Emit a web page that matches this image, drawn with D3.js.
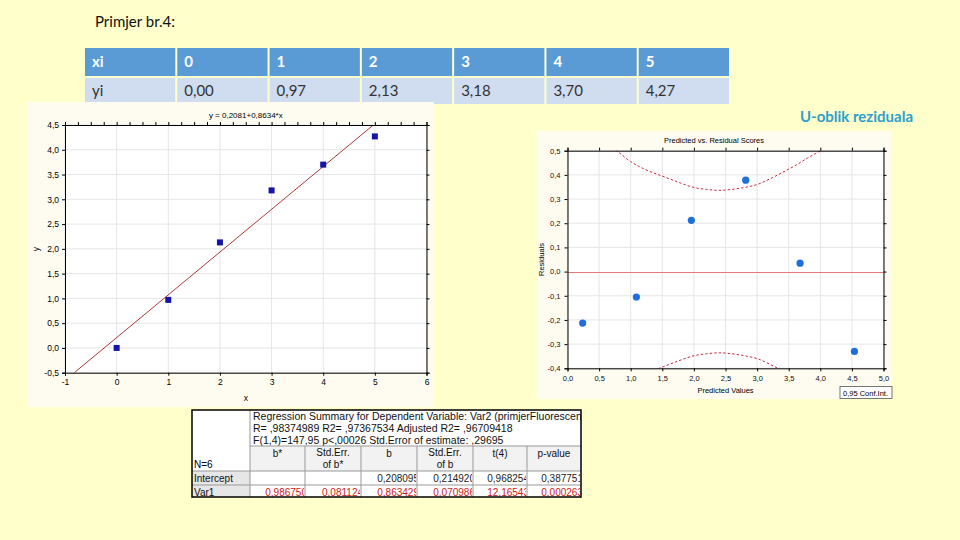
<!DOCTYPE html>
<html><head><meta charset="utf-8">
<script src="https://cdn.jsdelivr.net/npm/d3@7"></script>
<style>html,body{margin:0;padding:0;background:#FFFFCC;}svg{display:block;}</style>
</head><body>
<svg id="c" width="960" height="540"></svg>
<script>
// ---------- data ----------
const tableHead = ["xi","0","1","2","3","4","5"];
const tableRow  = ["yi","0,00","0,97","2,13","3,18","3,70","4,27"];
const xi = [0,1,2,3,4,5];
const yi = [0.00,0.97,2.13,3.18,3.70,4.27];
const fitIntercept = 0.2081, fitSlope = 0.8634;
const fitTitle = "y = 0,2081+0,8634*x";
const leftXTicks = [-1,0,1,2,3,4,5,6];
const leftYTicks = [-0.5,0,0.5,1,1.5,2,2.5,3,3.5,4,4.5];
const predicted = [0.24,1.09,1.96,2.82,3.68,4.54];
const residuals = [-0.213,-0.105,0.212,0.378,0.035,-0.330];
const bandPred  = [0.6,0.78,1.0,1.25,1.5,1.75,2.0,2.2,2.4,2.6,2.8,3.0,3.2,3.4,3.6,3.8,4.0,4.2];
const bandUpper = [0.54,0.50,0.455,0.42,0.395,0.37,0.348,0.34,0.336,0.34,0.348,0.36,0.383,0.41,0.438,0.47,0.50,0.54];
const bandLower = bandUpper.map(v => -v);
const rightXTicks = [0,0.5,1,1.5,2,2.5,3,3.5,4,4.5,5];
const rightYTicks = [-0.4,-0.3,-0.2,-0.1,0,0.1,0.2,0.3,0.4,0.5];
const regTitle = ["Regression Summary for Dependent Variable: Var2 (primjerFluorescencija.sta)",
                  "R= ,98374989 R2= ,97367534 Adjusted R2= ,96709418",
                  "F(1,4)=147,95 p<,00026 Std.Error of estimate: ,29695"];
const regCols = [["b*"],["Std.Err.","of b*"],["b"],["Std.Err.","of b"],["t(4)"],["p-value"]];
const regRows = ["Intercept","Var1"];
const regVals = [["","","0,208095","0,214920","0,968254","0,387751"],
                 ["0,986750","0,081124","0,863429","0,070986","12,16543","0,000263"]];

const fmt = d => d3.format(".1f")(d).replace(".",",").replace("−","-");
const svg = d3.select("#c");
const FS = "'Liberation Sans', Arial, sans-serif";

// ---------- slide title ----------
svg.append("text").attr("x",95).attr("y",27).attr("font-family","Lato, 'Open Sans', sans-serif")
  .attr("font-size",15).attr("fill","#111").text("Primjer br.4:");
svg.append("text").attr("x",913).attr("y",122).attr("text-anchor","end")
  .attr("font-family","Lato, 'Open Sans', sans-serif").attr("font-weight","bold")
  .attr("font-size",15).attr("fill","#2EA0CC").text("U-oblik reziduala");

// ---------- top table ----------
const colX = d3.scaleBand().domain(d3.range(7)).range([85,731]).paddingInner(0);
const tt = svg.append("g");
[[tableHead,48,76,"#5B9BD5","#fff"],[tableRow,78,104,"#D0DCEF","#333"]].forEach(([row,y0,y1,fill,tc]) => {
  row.forEach((t,i) => {
    tt.append("rect").attr("x",colX(i)).attr("y",y0).attr("width",colX.bandwidth()-2).attr("height",y1-y0).attr("fill",fill);
    tt.append("text").attr("x",colX(i)+7).attr("y",(y0+y1)/2+5).attr("font-family","Lato, sans-serif")
      .attr("font-size",15).attr("fill",tc).attr("font-weight",tc==="#fff"?"bold":"normal").text(t);
  });
});

// ---------- left chart ----------
const L = svg.append("g");
L.append("rect").attr("x",27).attr("y",102).attr("width",407).attr("height",305).attr("fill","#FEFCF0");
const xL = d3.scaleLinear([-1,6],[65,426.5]);
const yL = d3.scaleLinear([-0.5,4.5],[372.7,125]);
L.append("rect").attr("x",65).attr("y",125).attr("width",361.5).attr("height",247.7).attr("fill","#fff");
L.append("g").selectAll("line").data(leftXTicks).join("line")
  .attr("x1",d=>xL(d)).attr("x2",d=>xL(d)).attr("y1",125).attr("y2",372.7).attr("stroke","#E6E6E6");
L.append("g").selectAll("line").data(leftYTicks).join("line")
  .attr("y1",d=>yL(d)).attr("y2",d=>yL(d)).attr("x1",65).attr("x2",426.5).attr("stroke","#E6E6E6");
const axB = d3.axisBottom(xL).tickValues(leftXTicks).tickFormat(d=>String(d)).tickSize(3).tickPadding(3);
const axT = d3.axisTop(xL).tickValues(d3.range(-1,6.01,0.25)).tickFormat("").tickSize(3);
const axLf = d3.axisLeft(yL).tickValues(leftYTicks).tickFormat(fmt).tickSize(3).tickPadding(3);
const axR = d3.axisRight(yL).tickValues(leftYTicks).tickFormat("").tickSize(3);
L.append("clipPath").attr("id","clipL").append("rect").attr("x",65).attr("y",125).attr("width",361.5).attr("height",247.7);
L.append("line").attr("x1",xL((-0.5-fitIntercept)/fitSlope)).attr("y1",yL(-0.5))
  .attr("x2",xL((4.5-fitIntercept)/fitSlope)).attr("y2",yL(4.5))
  .attr("stroke","#B03838").attr("stroke-width",1).attr("clip-path","url(#clipL)");
L.append("g").selectAll("rect").data(xi).join("rect")
  .attr("x",(d)=>xL(d)-3).attr("y",(d,i)=>yL(yi[i])-3).attr("width",6).attr("height",6).attr("fill","#1414A8");
[[axB,`translate(0,372.7)`],[axT,`translate(0,125)`],[axLf,`translate(65,0)`],[axR,`translate(426.5,0)`]].forEach(([a,t])=>{
  const g = L.append("g").attr("transform",t).call(a);
  g.selectAll("path").attr("stroke","#000").attr("stroke-width",1);
  g.selectAll("line").attr("stroke","#000");
  g.selectAll("text").attr("font-family",FS).attr("font-size",8.5).attr("fill","#000");
});
L.append("text").attr("x",245.8).attr("y",118).attr("text-anchor","middle").attr("font-family",FS).attr("font-size",8).text(fitTitle);
L.append("text").attr("transform","translate(39,249) rotate(-90)").attr("text-anchor","middle").attr("font-family",FS).attr("font-size",8.5).text("y");
L.append("text").attr("x",245.8).attr("y",401).attr("text-anchor","middle").attr("font-family",FS).attr("font-size",8.5).text("x");

// ---------- right chart ----------
const R = svg.append("g");
R.append("rect").attr("x",537).attr("y",131).attr("width",355).attr("height",268).attr("fill","#FEFCF0");
const xR = d3.scaleLinear([0,5],[567.5,883.5]);
const yR = d3.scaleLinear([-0.4,0.5],[368.3,150.7]);
R.append("rect").attr("x",567.5).attr("y",150.7).attr("width",316).attr("height",217.6).attr("fill","#fff");
R.append("clipPath").attr("id","clipR").append("rect").attr("x",567.5).attr("y",150.7).attr("width",316).attr("height",217.6);
R.append("g").selectAll("line").data(rightXTicks).join("line")
  .attr("x1",d=>xR(d)).attr("x2",d=>xR(d)).attr("y1",150.7).attr("y2",368.3).attr("stroke","#E6E6E6");
R.append("g").selectAll("line").data(rightYTicks.filter(d=>Math.abs(d)>1e-9)).join("line")
  .attr("y1",d=>yR(d)).attr("y2",d=>yR(d)).attr("x1",567.5).attr("x2",883.5).attr("stroke","#E6E6E6");
const y0R = Math.round(yR(0)) + 0.5;
R.append("line").attr("x1",568).attr("x2",883).attr("y1",y0R).attr("y2",y0R).attr("stroke","#E87878").attr("stroke-width",1);
const band = d3.line().x((d,i)=>xR(bandPred[i])).y(d=>yR(d)).curve(d3.curveMonotoneX);
[bandUpper,bandLower].forEach(b=>{
  R.append("path").attr("d",band(b)).attr("fill","none").attr("stroke","#C43040").attr("stroke-width",1)
    .attr("stroke-dasharray","2.5,2").attr("clip-path","url(#clipR)");
});
R.append("g").selectAll("circle").data(predicted).join("circle")
  .attr("cx",d=>xR(d)).attr("cy",(d,i)=>yR(residuals[i])).attr("r",3.6).attr("fill","#1E6FDC");
const fmtR = d => (Math.abs(d)<1e-9?"0,0":d3.format(".1f")(d).replace(".",",").replace("−","-"));
[[d3.axisBottom(xR).tickValues(rightXTicks).tickFormat(fmtR),`translate(0,368.3)`],
 [d3.axisTop(xR).tickValues(rightXTicks).tickFormat(""),`translate(0,150.7)`],
 [d3.axisLeft(yR).tickValues(rightYTicks).tickFormat(fmtR),`translate(567.5,0)`],
 [d3.axisRight(yR).tickValues(rightYTicks).tickFormat(""),`translate(883.5,0)`]].forEach(([a,t])=>{
  const g = R.append("g").attr("transform",t).call(a.tickSize(3).tickPadding(4));
  g.selectAll("path").attr("stroke","#000");
  g.selectAll("line").attr("stroke","#000");
  g.selectAll("text").attr("font-family",FS).attr("font-size",7.5).attr("fill","#111");
});
R.append("text").attr("x",714).attr("y",143).attr("text-anchor","middle").attr("font-family",FS).attr("font-size",7.5).text("Predicted vs. Residual Scores");
R.append("text").attr("x",725.5).attr("y",393).attr("text-anchor","middle").attr("font-family",FS).attr("font-size",7.5).text("Predicted Values");
R.append("text").attr("transform","translate(544,259.5) rotate(-90)").attr("text-anchor","middle").attr("font-family",FS).attr("font-size",7.5).text("Residuals");
R.append("rect").attr("x",840).attr("y",386.5).attr("width",52).attr("height",12).attr("fill","#fff").attr("stroke","#555").attr("stroke-width",0.8);
R.append("text").attr("x",843).attr("y",395.5).attr("font-family",FS).attr("font-size",7.5).text("0,95 Conf.Int.");

// ---------- regression summary table ----------
const T = svg.append("g");
const cx = [192,250,305,361,417,473,527,581];
const ty = {top:410, sub:446, hdr:471, r1:485, r2:497};
T.append("rect").attr("x",192).attr("y",ty.top).attr("width",389).attr("height",ty.r2-ty.top).attr("fill","#fff");
T.append("rect").attr("x",250).attr("y",ty.sub).attr("width",331).attr("height",ty.hdr-ty.sub).attr("fill","#F2F2F2");
T.append("rect").attr("x",192).attr("y",ty.hdr).attr("width",58).attr("height",ty.r2-ty.hdr).attr("fill","#E6E6E6");
T.append("clipPath").attr("id","clipT").append("rect").attr("x",250).attr("y",ty.top).attr("width",331).attr("height",36);
regTitle.forEach((t,i)=>T.append("text").attr("x",253).attr("y",ty.top+10+i*12).attr("font-family",FS)
  .attr("font-size",10.5).attr("fill","#111").attr("clip-path","url(#clipT)").text(t));
T.append("text").attr("x",194).attr("y",468).attr("font-family",FS).attr("font-size",10).text("N=6");
regCols.forEach((lines,i)=>{
  const mid = (cx[i+1]+cx[i+2])/2;
  lines.forEach((l,j)=>T.append("text").attr("x",mid).attr("y",(lines.length===1?457:456)+j*12)
    .attr("text-anchor","middle").attr("font-family",FS).attr("font-size",10).attr("fill","#111").text(l));
});
regRows.forEach((r,i)=>{
  const yb = [ty.hdr,ty.r1][i]+11;
  T.append("text").attr("x",194).attr("y",yb).attr("font-family",FS).attr("font-size",10).attr("fill","#111").text(r);
  regVals[i].forEach((v,j)=>{
    const id = `cl${i}${j}`;
    T.append("clipPath").attr("id",id).append("rect").attr("x",cx[j+1]).attr("y",ty.hdr).attr("width",cx[j+2]-cx[j+1]-1).attr("height",30);
    T.append("text").attr("x",cx[j+2]-1).attr("y",yb).attr("text-anchor","end").attr("dx",3)
      .attr("font-family",FS).attr("font-size",10).attr("fill",i===1?"#D01818":"#222")
      .attr("clip-path",`url(#${id})`).text(v);
  });
});
T.append("line").attr("x1",250).attr("x2",581).attr("y1",ty.sub).attr("y2",ty.sub).attr("stroke","#999");
[ty.hdr,ty.r1].forEach(y=>T.append("line").attr("x1",192).attr("x2",581).attr("y1",y).attr("y2",y).attr("stroke","#999"));
T.append("line").attr("x1",250).attr("x2",250).attr("y1",ty.top).attr("y2",ty.r2).attr("stroke","#999");
cx.slice(2,7).forEach(x=>T.append("line").attr("x1",x).attr("x2",x).attr("y1",ty.sub).attr("y2",ty.r2).attr("stroke","#999"));
T.append("rect").attr("x",192).attr("y",ty.top).attr("width",389).attr("height",ty.r2-ty.top).attr("fill","none").attr("stroke","#000").attr("stroke-width",1.5);
</script>
</body></html>
